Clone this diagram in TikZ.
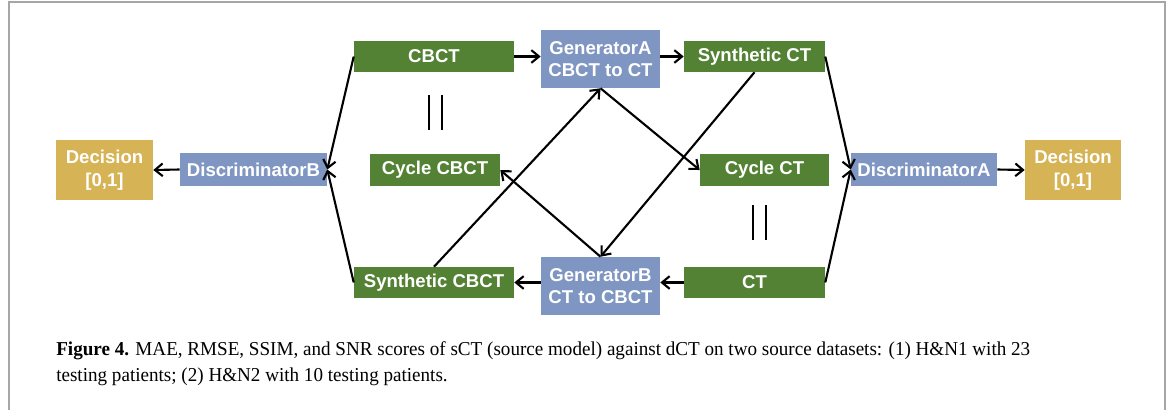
\documentclass[tikz,border=0pt]{standalone}
\usepackage{fontspec}
\setmainfont{Liberation Serif}[FakeStretch=0.97]
\newfontfamily\labelfont{Liberation Sans}
\usetikzlibrary{arrows.meta}

\definecolor{boxgreen}{RGB}{84,130,53}
\definecolor{boxblue}{RGB}{127,150,194}
\definecolor{boxgold}{RGB}{214,179,84}

\tikzset{
  blk/.style n args={3}{fill=#1, text=white, inner sep=0pt, align=center,
    minimum width=#2*0.025cm, minimum height=#3*0.025cm,
    font=\labelfont\bfseries\fontsize{13.2}{16}\selectfont},
  arr/.style={line width=1.5pt, -{Straight Barb[length=5.5pt,width=9pt,line width=1.5pt]}}
}

\begin{document}
\begin{tikzpicture}[x=0.025cm,y=-0.025cm]
    \useasboundingbox (0,0) rectangle (1170,409);
    \draw[gray!70, line width=1pt] (9,430) -- (9,2) -- (1165,2) -- (1165,430);

    \node[blk={boxgold}{97}{60}]   (decB)    at (104.5,170) {Decision\\{[0,1]}};
    \node[blk={boxblue}{147}{33}]  (discB)   at (253.5,169.5) {DiscriminatorB};
    \node[blk={boxgreen}{160}{31}] (cbct)    at (434,56.5) {CBCT};
    \node[blk={boxgreen}{130}{32}] (cycCBCT) at (435,170) {Cycle CBCT};
    \node[blk={boxgreen}{160}{31}] (synCBCT) at (434,282.5) {Synthetic CBCT};
    \node[blk={boxblue}{119}{58}]  (genA)    at (600.5,59) {GeneratorA\\CBCT to CT};
    \node[blk={boxblue}{119}{58}]  (genB)    at (600.5,286) {GeneratorB\\CT to CBCT};
    \node[blk={boxgreen}{141}{31}] (synCT)   at (754.5,56.5) {Synthetic CT};
    \node[blk={boxgreen}{129}{32}] (cycCT)   at (764.5,170) {Cycle CT};
    \node[blk={boxgreen}{141}{31}] (ct)      at (754.5,282.5) {CT};
    \node[blk={boxblue}{146}{33}]  (discA)   at (924,169.5) {DiscriminatorA};
    \node[blk={boxgold}{96}{60}]   (decA)    at (1073,170) {Decision\\{[0,1]}};

    \draw[arr] (cbct.east) -- (cbct.east -| genA.west);
    \draw[arr] (genA.east |- synCT.west) -- (synCT.west);
    \draw[arr] (ct.west) -- (ct.west -| genB.east);
    \draw[arr] (genB.west |- synCBCT.east) -- (synCBCT.east);
    \foreach \a/\b in {cbct.west/discB.east, synCBCT.west/discB.east,
                       synCT.east/discA.west, ct.east/discA.west,
                       synCBCT.north/genA.south, genA.south/cycCT.west,
                       synCT.south/genB.north, genB.north/cycCBCT.east,
                       discB.west/decB.east, discA.east/decA.west}
    {
        \draw[arr] (\a) -- (\b);
    }

    \foreach \x/\y in {429/95, 442/95, 753/205, 766/205}
    {
        \draw[line width=2pt] (\x,\y) -- (\x,\y+35);
    }

    \node[anchor=north west, align=left, inner sep=0pt,
          font=\fontsize{14}{18.6}\selectfont] (caption) at (56,341)
        {\textbf{Figure 4.} MAE, RMSE, SSIM, and SNR scores of sCT (source model) against dCT on two source datasets: (1) H\&N1 with 23\\
         testing patients; (2) H\&N2 with 10 testing patients.};
\end{tikzpicture}
\end{document}
